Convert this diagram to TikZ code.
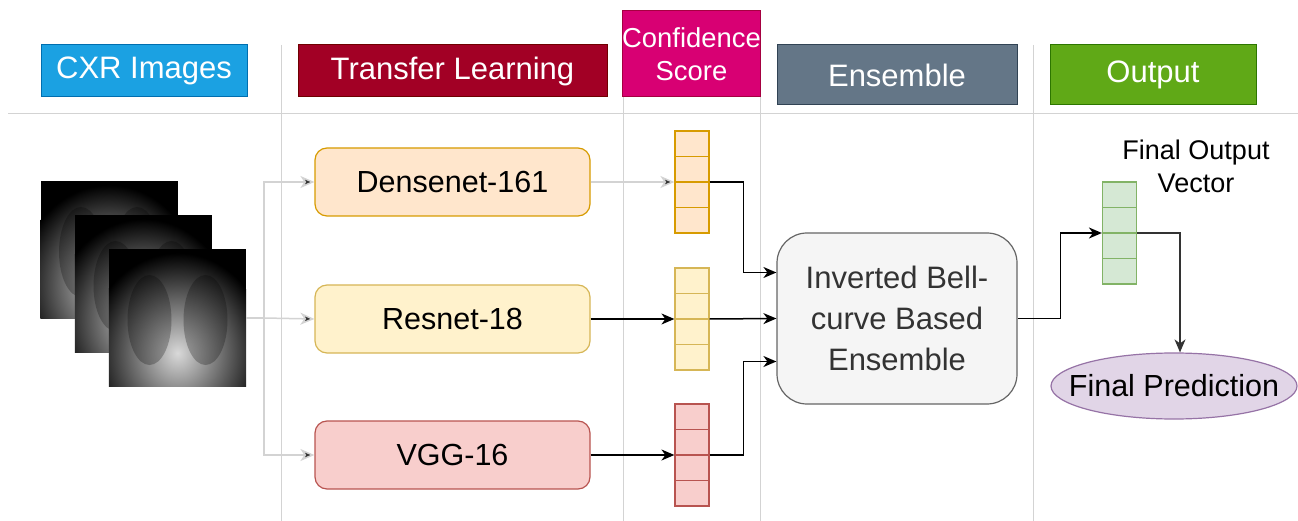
\documentclass[tikz,border=0pt]{standalone}
\usepackage{fontspec}
\setmainfont{Liberation Sans}
\usetikzlibrary{arrows.meta,calc,shapes.geometric}

\definecolor{cxrfill}{HTML}{1BA1E2}
\definecolor{cxrline}{HTML}{006EAF}
\definecolor{tlfill}{HTML}{A20025}
\definecolor{tlline}{HTML}{6F0000}
\definecolor{csfill}{HTML}{D80073}
\definecolor{csline}{HTML}{A50040}
\definecolor{ensfill}{HTML}{647687}
\definecolor{ensline}{HTML}{314354}
\definecolor{outfill}{HTML}{60A917}
\definecolor{outline}{HTML}{2D7600}
\definecolor{dnfill}{HTML}{FFE6CC}
\definecolor{dnline}{HTML}{D79B00}
\definecolor{rnfill}{HTML}{FFF2CC}
\definecolor{rnline}{HTML}{D6B656}
\definecolor{vgfill}{HTML}{F8CECC}
\definecolor{vgline}{HTML}{B85450}
\definecolor{fvfill}{HTML}{D5E8D4}
\definecolor{fvline}{HTML}{82B366}
\definecolor{bellfill}{HTML}{F5F5F5}
\definecolor{bellline}{HTML}{666666}
\definecolor{belltext}{HTML}{333333}
\definecolor{predfill}{HTML}{E1D5E7}
\definecolor{predline}{HTML}{9673A6}
\definecolor{sepgray}{HTML}{D3D3D3}

\begin{document}
\begin{tikzpicture}[x=1pt,y=-1pt,
  head/.style={draw, line width=1pt, text=white, inner sep=0pt, align=center,
    font=\fontsize{31}{35}\selectfont},
  model/.style={draw, rounded corners=12pt, line width=1.2pt, minimum width=275pt,
    minimum height=68pt, font=\fontsize{30.5}{35}\selectfont},
  vec/.style={draw, line width=1.2pt, minimum width=34pt, minimum height=102pt, inner sep=0pt},
  xray/.style={fill=black, minimum size=137pt, inner sep=0pt},
  arr/.style={line width=1.5pt, -{Stealth[length=13pt,width=11pt,inset=4pt]}},
  greyarr/.style={draw=sepgray, line width=1.5pt,
    -{Stealth[length=14pt,width=12pt,inset=4pt,fill=black!80]}}]
\useasboundingbox (0,0) rectangle (1298,521);

% column separators
\draw[sepgray, line width=1pt] (8,114) -- (1298,114);
\draw[sepgray, line width=1pt] (281,45) -- (281,521);
\draw[sepgray, line width=1pt] (623,97) -- (623,521);
\draw[sepgray, line width=1pt] (760,97) -- (760,521);
\draw[sepgray, line width=1pt] (1033,45) -- (1033,521);

% column headings
\node[head, draw=cxrline, fill=cxrfill, minimum width=206pt, minimum height=52pt] (hcxr) at (144,71) {CXR Images};
\node[head, draw=tlline, fill=tlfill, minimum width=309pt, minimum height=52pt] (htl) at (452.5,71) {Transfer Learning};
\node[head, draw=csline, fill=csfill, minimum width=137pt, minimum height=86pt,
  font=\fontsize{27.4}{33}\selectfont] (hcs) at (691.5,54) {Confidence\\Score};
\node[head, draw=ensline, fill=ensfill, minimum width=240pt, minimum height=60pt] (hens) at (897,75) {Ensemble};
\node[head, draw=outline, fill=outfill, minimum width=206pt, minimum height=60pt] (hout) at (1153,75) {Output};

% x-ray stack
\foreach \n/\cx/\cy in {xa/109/250, xb/143.5/284, xc/177.5/318}{
  \node[xray] (\n) at (\cx,\cy) {};
  \begin{scope}
    \clip (\n.north west) rectangle (\n.south east);
    \shade[inner color=white!85!black, outer color=black] (\cx,\cy+35) ellipse (90 and 100);
    \fill[black, opacity=0.25] (\cx-28,\cy+2) ellipse (22 and 45);
    \fill[black, opacity=0.25] (\cx+28,\cy+2) ellipse (22 and 45);
  \end{scope}
}

% models
\node[model, draw=dnline, fill=dnfill] (dn) at (452.5,182) {Densenet-161};
\node[model, draw=rnline, fill=rnfill] (rn) at (452.5,319) {Resnet-18};
\node[model, draw=vgline, fill=vgfill] (vg) at (452.5,455) {VGG-16};

% score vectors
\node[vec, draw=dnline, fill=dnfill] (sc1) at (692,182) {};
\node[vec, draw=rnline, fill=rnfill] (sc2) at (692,319) {};
\node[vec, draw=vgline, fill=vgfill] (sc3) at (692,455) {};
\node[vec, draw=fvline, fill=fvfill] (fov) at (1119.5,233) {};
\foreach \v/\c in {sc1/dnline, sc2/rnline, sc3/vgline, fov/fvline}
  \foreach \k in {1,2,3}
    \draw[\c, line width=1.2pt] ($(\v.north west)!\k/4!(\v.south west)$) -- ($(\v.north east)!\k/4!(\v.south east)$);

% ensemble and output
\node[draw=bellline, fill=bellfill, rounded corners=30pt, line width=1.2pt, minimum width=240pt,
  minimum height=171pt, text=belltext, align=center, font=\fontsize{31}{41}\selectfont] (bell) at (897,318.5)
  {Inverted Bell-\\curve Based\\Ensemble};
\node[align=center, font=\fontsize{27}{33}\selectfont] (fovlbl) at (1196,166) {Final Output\\Vector};
\node[ellipse, draw=predline, fill=predfill, line width=1.2pt, minimum width=246pt, minimum height=66pt,
  inner xsep=-40pt, inner ysep=0pt, font=\fontsize{30.5}{35}\selectfont] (pred) at (1174,386) {Final Prediction};

% connectors
\coordinate (split) at (264,318);
\draw[sepgray, line width=1.5pt] (xc.east) -- (split);
\draw[greyarr] (split) |- (dn.west);
\draw[greyarr] (split) -- (rn.west);
\draw[greyarr] (split) |- (vg.west);
\draw[greyarr] (dn.east) -- (sc1.west);
\draw[arr] (rn.east) -- (sc2.west);
\draw[arr] (vg.east) -- (sc3.west);
\draw[arr] (sc1.east) -- ++(34,0) |- ([yshift=46pt]bell.west);
\draw[arr] (sc2.east) -- (bell.west);
\draw[arr] (sc3.east) -- ++(34,0) |- ([yshift=-43pt]bell.west);
\draw[arr] (bell.east) -- ++(43,0) |- (fov.west);
\draw[arr, belltext] (fov.east) -| ([xshift=6pt]pred.north);

\end{tikzpicture}
\end{document}
